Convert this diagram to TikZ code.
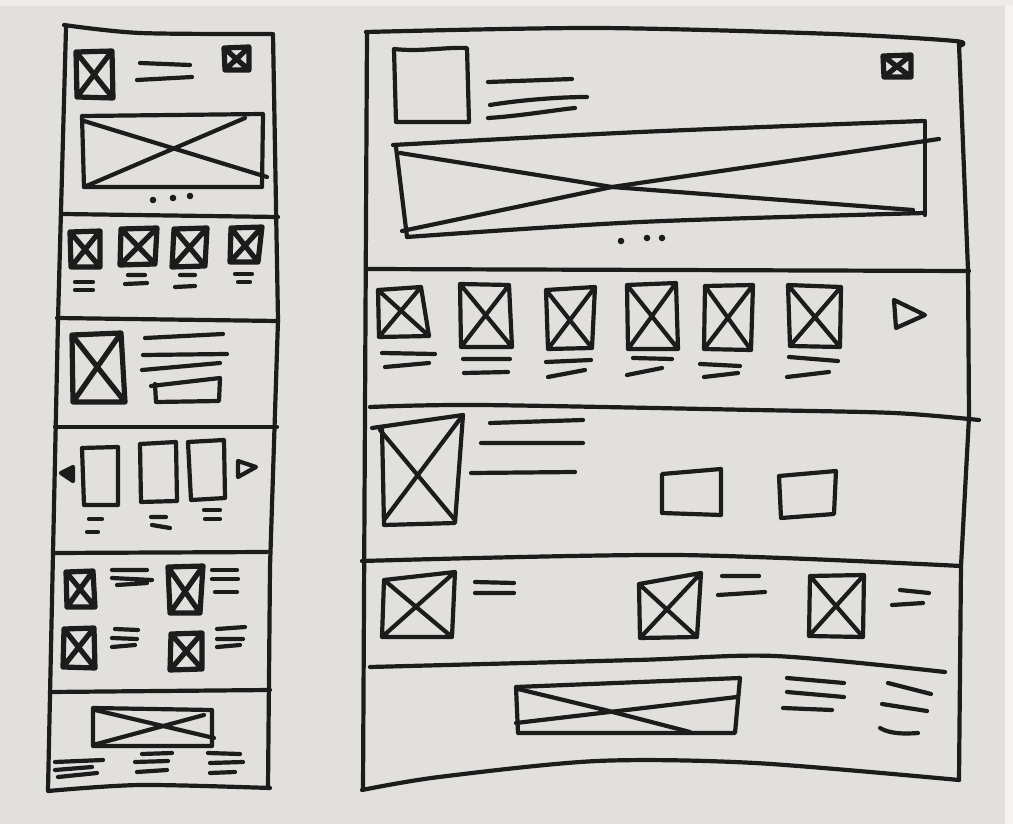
\documentclass[tikz,border=0pt]{standalone}
\usetikzlibrary{calc}
\definecolor{paper}{RGB}{226,224,221}
\definecolor{inkc}{RGB}{28,28,28}
\tikzset{
  ink/.style={draw=inkc, line width=4.2pt, line cap=round, line join=round},
  inkthick/.style={draw=inkc, line width=5.2pt, line cap=round, line join=round},
  dotmark/.style={fill=inkc, draw=none},
}
\newcommand\qx[5][ink]{\draw[#1] #2--#3--#4--#5--cycle #2--#4 #3--#5;}
\newcommand\qq[5][ink]{\draw[#1] #2--#3--#4--#5--cycle;}
\begin{document}
\begin{tikzpicture}[x=1pt,y=-1pt]
\useasboundingbox (0,0) rectangle (1013,824);
\fill[paper] (0,0) rectangle (1013,824);
\fill[white!60!paper] (1005,0) rectangle (1013,824);
\fill[white!40!paper] (0,0) rectangle (1013,6);

% ================= LEFT (mobile) FRAME =================
\draw[ink] plot[smooth] coordinates {(64,25) (140,33) (272,34)};
\draw[ink] (66,28) -- (58,320) -- (53,553) -- (48,790);
\draw[ink] (273,34) -- (278,320) -- (270,567) -- (268,788);
\draw[ink] plot[smooth] coordinates {(48,791) (140,785) (270,788)};
% dividers
\draw[ink] (63,214) -- (278,217);
\draw[ink] (57,318) -- (278,321);
\draw[ink] (55,427) -- (277,427);
\draw[ink] (53,553) -- (267,552);
\draw[ink] (50,692) -- (270,690);

% section 1
\qx[inkthick]{(76,52)}{(112,51)}{(113,98)}{(77,97)}
\draw[ink] (140,63) -- (190,65) (137,80) -- (192,77);
\qx[inkthick]{(224,48)}{(249,47)}{(249,70)}{(225,70)}
\draw[ink] (82,116) -- (263,114) -- (262,187) -- (84,187) -- cycle;
\draw[ink] (84,121) -- (267,177);
\draw[ink] (84,187) -- (245,118);
\fill[dotmark] (153,200) circle (3.3) (173,198) circle (3.3) (190,196) circle (3.3);

% section 2
\qx[inkthick]{(70,232)}{(100,231)}{(100,267)}{(71,267)}
\qx[inkthick]{(121,229)}{(157,228)}{(155,264)}{(120,265)}
\qx[inkthick]{(174,229)}{(207,228)}{(205,266)}{(172,267)}
\qx[inkthick]{(231,228)}{(262,227)}{(258,262)}{(230,262)}
\draw[ink] (75,282) -- (93,282) (75,290) -- (93,290);
\draw[ink] (128,275) -- (145,275) (125,284) -- (147,283);
\draw[ink] (180,275) -- (195,275) (175,287) -- (195,286);
\draw[ink] (235,274) -- (252,274) (238,282) -- (250,282);

% section 3
\qx[inkthick]{(72,335)}{(121,333)}{(125,402)}{(73,402)}
\draw[ink] (145,338) -- (223,334) (143,355) -- (227,354) (142,370) -- (220,363);
\draw[ink] (151,386) -- (220,378) -- (219,401) -- (156,402) -- (155,384);

% section 4
\draw[ink, fill=inkc] (61,473) -- (73,467) -- (73,481) -- cycle;
\qq{(82,448)}{(118,447)}{(118,505)}{(84,505)}
\qq{(140,444)}{(176,442)}{(177,501)}{(141,502)}
\qq{(188,442)}{(224,440)}{(225,498)}{(191,500)}
\draw[ink] (238,461) -- (256,467) -- (238,477) -- cycle;
\draw[ink] (89,519) -- (102,519) (87,532) -- (98,532);
\draw[ink] (151,517) -- (166,517) (152,525) -- (170,528);
\draw[ink] (204,510) -- (220,510) (205,519) -- (220,519);

% section 5
\qx[inkthick]{(66,572)}{(93,571)}{(95,607)}{(67,607)}
\draw[ink] (112,570) -- (147,570) (112,578) -- (152,580) (117,585) -- (147,583);
\qx[inkthick]{(168,567)}{(203,566)}{(200,613)}{(170,613)}
\draw[ink] (212,570) -- (237,570) (212,579) -- (238,579) (215,592) -- (237,592);
\qx[inkthick]{(64,629)}{(94,628)}{(95,668)}{(63,667)}
\draw[ink] (115,629) -- (138,630) (112,638) -- (137,639) (112,647) -- (135,645);
\qx[inkthick]{(171,634)}{(202,633)}{(202,669)}{(170,670)}
\draw[ink] (217,629) -- (245,627) (217,639) -- (243,639) (217,647) -- (240,645);

% section 6
\draw[ink] (93,708) -- (212,710) -- (212,746) -- (93,746) -- cycle;
\draw[ink] (95,710) -- (214,738);
\draw[ink] (93,745) -- (204,715);
\draw[ink] (55,762) -- (103,760) (55,770) -- (92,767) (58,777) -- (97,773);
\draw[ink] (142,754) -- (172,753) (135,762) -- (168,761) (137,772) -- (167,770);
\draw[ink] (208,753) -- (240,754) (210,763) -- (243,762) (210,773) -- (235,772);

% ================= RIGHT (desktop) FRAME =================
\draw[ink] plot[smooth] coordinates {(366,32) (597,28) (834,34) (955,41) (959,46)};
\draw[ink] (367,32) -- (363,790);
\draw[ink] (959,44) -- (968,270) -- (969,417) -- (961,566) -- (959,780);
\draw[ink] plot[smooth] coordinates {(362,790) (439,777) (597,761) (755,763) (959,780)};
% dividers
\draw[ink] (366,269) -- (969,271);
\draw[ink] plot[smooth] coordinates {(370,407) (479,405) (755,410) (894,413) (979,420)};
\draw[ink] plot[smooth] coordinates {(362,561) (676,555) (961,566)};
\draw[ink] plot[smooth] coordinates {(370,667) (637,660) (775,656) (945,672)};

% section 1
\draw[ink] (394,49) .. controls (420,52) and (445,47) .. (467,48) -- (469,122) -- (396,122) -- cycle;
\draw[ink] (488,82) -- (572,79);
\draw[ink] (490,105) .. controls (520,100) and (560,97) .. (587,97);
\draw[ink] (488,118) .. controls (520,116) and (555,110) .. (575,108);
\qx[inkthick]{(883,56)}{(911,55)}{(911,77)}{(884,77)}
\draw[ink] plot[smooth] coordinates {(393,145) (640,132) (923,121)};
\draw[ink] (925,121) -- (925,215);
\draw[ink] plot[smooth] coordinates {(407,237) (640,222) (925,213)};
\draw[ink] (396,147) -- (407,237);
\draw[ink] (400,153) -- (612,187) -- (913,210);
\draw[ink] (402,231) -- (612,187) -- (939,139);
\fill[dotmark] (621,241) circle (3.3) (647,238) circle (3.3) (662,238) circle (3.3);

% section 2
\qx{(378,290)}{(421,287)}{(429,336)}{(379,337)}
\qx{(460,284)}{(509,285)}{(512,347)}{(461,347)}
\qx{(546,290)}{(595,287)}{(592,348)}{(548,349)}
\qx{(627,285)}{(676,283)}{(678,349)}{(628,349)}
\qx{(705,286)}{(753,285)}{(751,350)}{(704,349)}
\qx{(788,285)}{(841,287)}{(840,347)}{(790,346)}
\draw[ink] (382,353) -- (435,354) (385,367) -- (429,363);
\draw[ink] (463,359) -- (510,359) (464,373) -- (508,372);
\draw[ink] (546,362) -- (591,360) (548,377) -- (585,370);
\draw[ink] (633,358) -- (672,359) (627,375) -- (662,368);
\draw[ink] (700,364) -- (740,366) (704,377) -- (738,373);
\draw[ink] (789,357) -- (838,361) (787,377) -- (829,372);
\draw[ink] (894,300) -- (925,315) -- (896,328) -- cycle;

% section 3
\draw[ink] (372,428) -- (463,415) -- (455,523) -- (384,525) -- (382,427);
\draw[ink] (380,430) -- (455,520);
\draw[ink] (384,520) -- (463,415);
\draw[ink] (490,423) -- (583,420) (481,443) -- (583,443) (471,473) -- (575,472);
\qq{(662,474)}{(721,469)}{(721,515)}{(662,513)}
\qq{(779,476)}{(836,471)}{(834,514)}{(781,518)}

% section 4
\qx{(384,580)}{(455,572)}{(452,637)}{(382,637)}
\draw[ink] (475,582) -- (514,583) (475,593) -- (514,593);
\qx{(639,584)}{(701,573)}{(697,637)}{(640,638)}
\draw[ink] (722,576) -- (759,576) (718,595) -- (765,592);
\qx{(810,576)}{(864,575)}{(863,637)}{(809,636)}
\draw[ink] (900,590) -- (929,593) (892,605) -- (923,603);

% section 5
\draw[ink] (516,687) -- (740,678) -- (735,733) -- (518,733) -- cycle;
\draw[ink] (516,723) -- (737,697);
\draw[ink] (518,689) -- (605,710) -- (690,732);
\draw[ink] (787,678) -- (844,683) (787,692) -- (844,697) (783,708) -- (832,710);
\draw[ink] (888,683) -- (931,694) (882,704) -- (927,711);
\draw[ink] (880,728) .. controls (890,734) and (905,734) .. (918,733);
\end{tikzpicture}
\end{document}
